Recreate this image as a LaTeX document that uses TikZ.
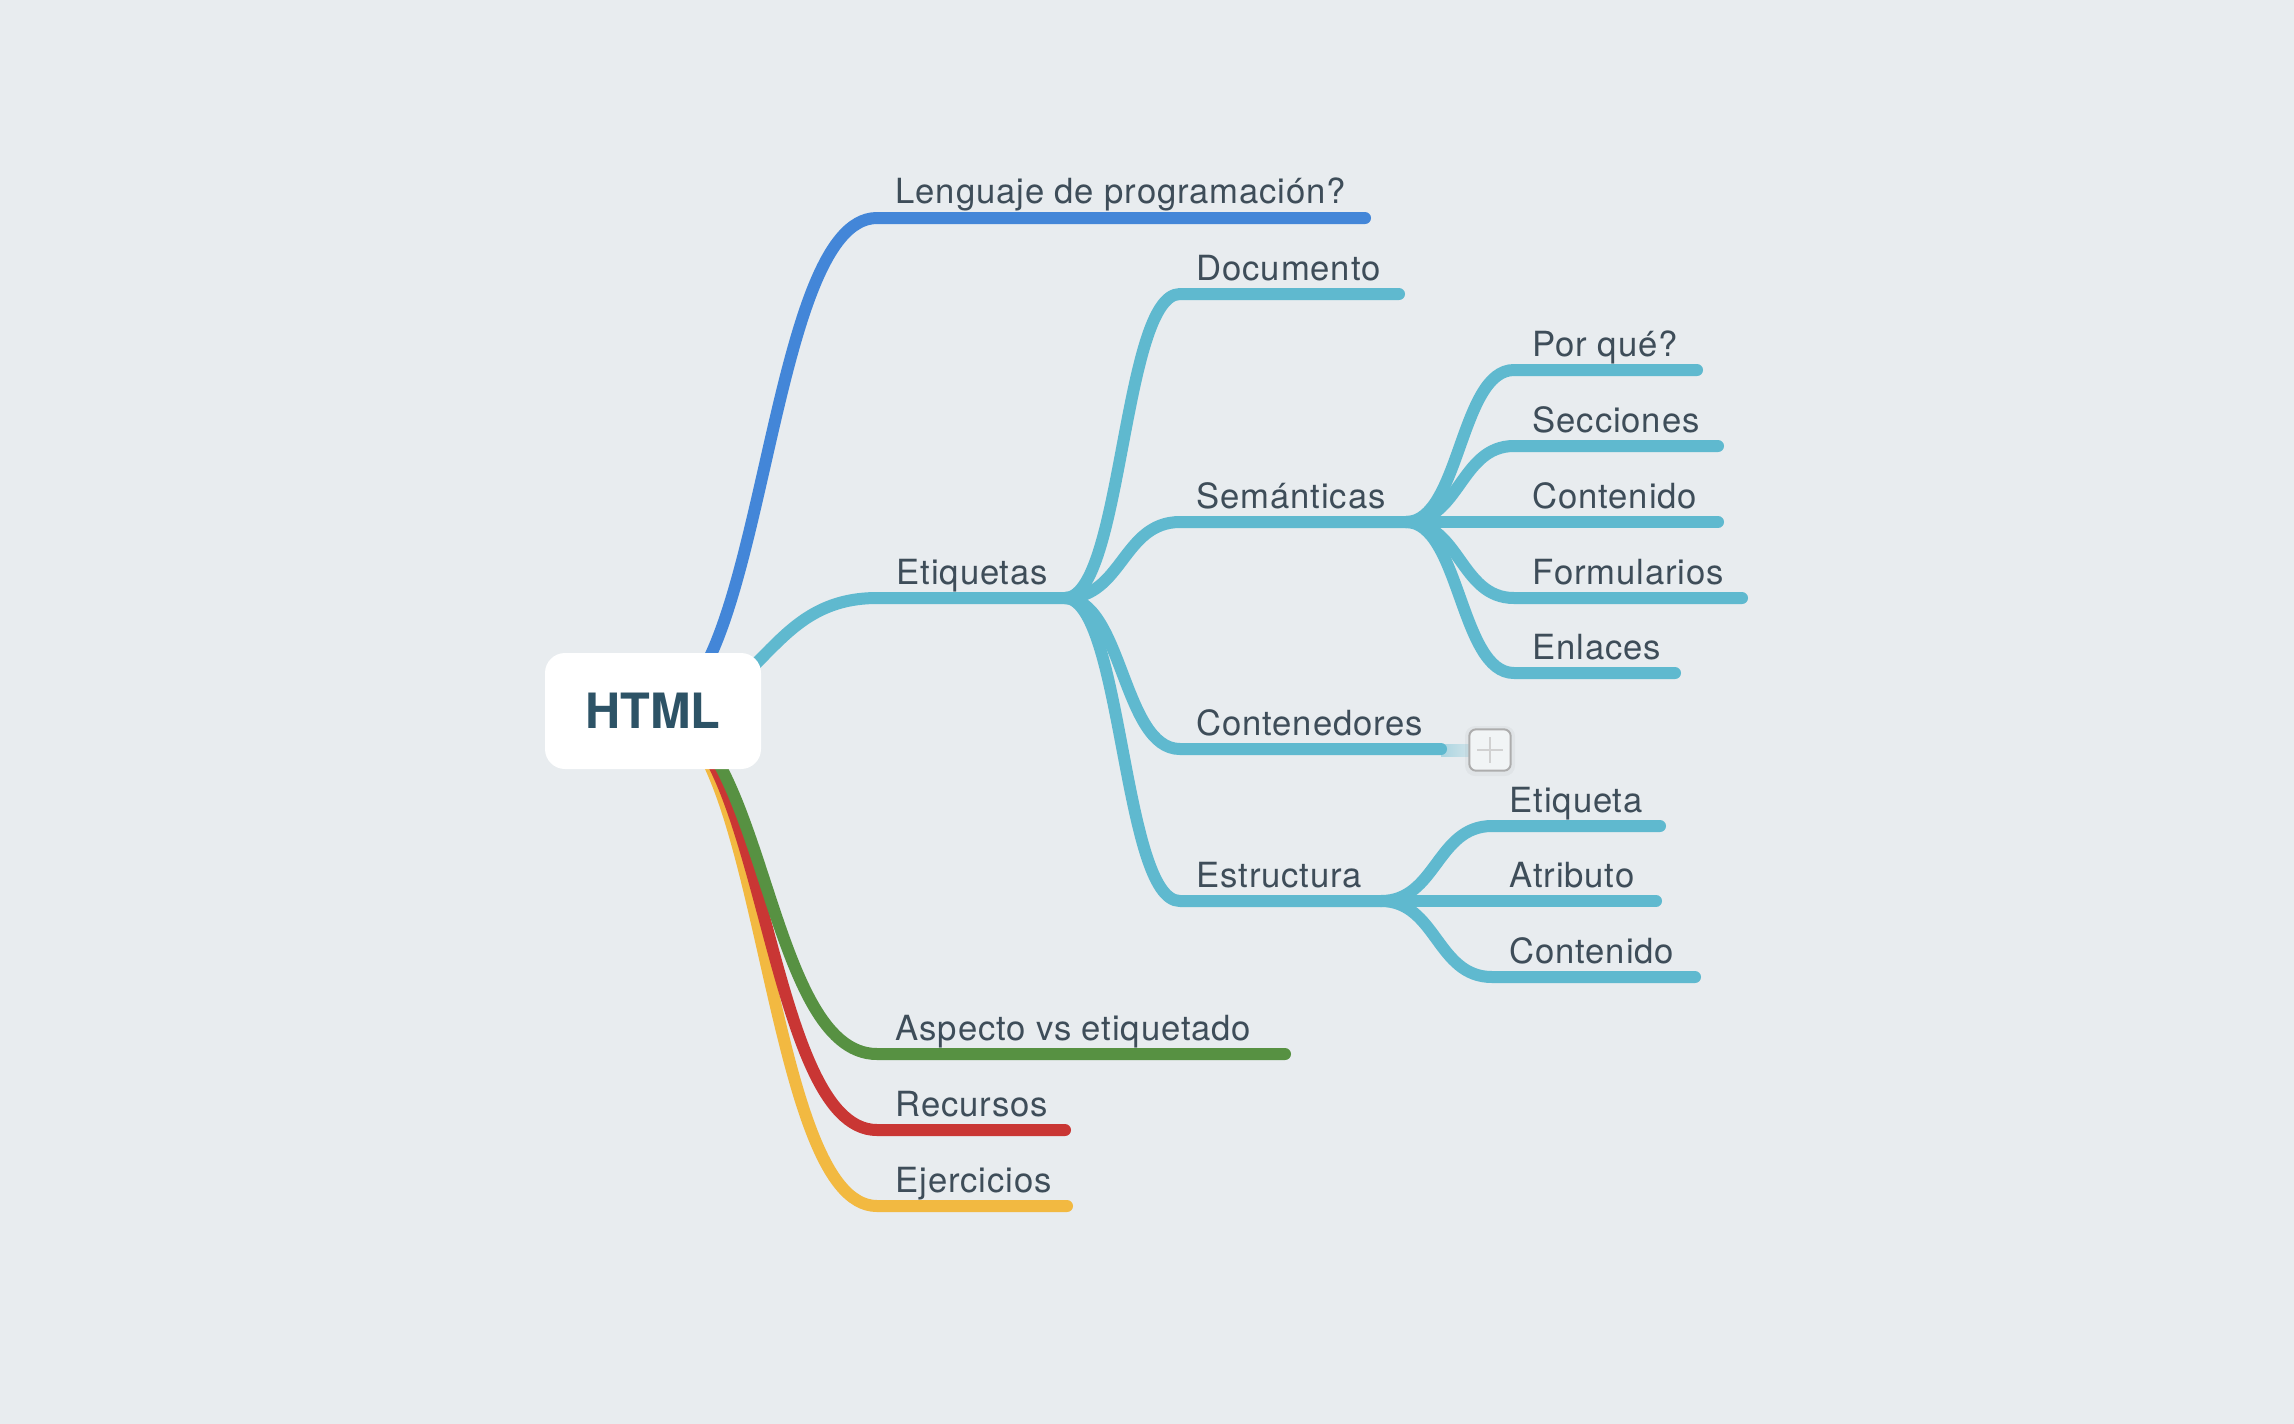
\documentclass[tikz,border=0pt]{standalone}
\usepackage{fontspec}
\setmainfont{TeX Gyre Heros}
\newfontfamily\lblfont{TeX Gyre Heros}[LetterSpace=2.5]
\usetikzlibrary{calc}
\definecolor{bg}{HTML}{E8ECEF}
\definecolor{cblue}{HTML}{4386D8}
\definecolor{clb}{HTML}{5FB9CF}
\definecolor{cgreen}{HTML}{579142}
\definecolor{cred}{HTML}{C93634}
\definecolor{cyel}{HTML}{F2B941}
\definecolor{ctext}{HTML}{3E4D59}
\definecolor{croot}{HTML}{2D5366}
\tikzset{
  br/.style={draw=#1, line width=3.6pt, line cap=round, line join=round},
  curveto/.style={to path={let \p1=(\tikztostart), \p2=(\tikztotarget) in
     .. controls ({0.5*\x1+0.5*\x2},\y1) and ({0.5*\x1+0.5*\x2},\y2) .. (\tikztotarget) \tikztonodes}},
  lbl/.style={anchor=base west, inner sep=0pt, text=ctext, font=\lblfont\fontsize{10.4}{12}\selectfont},
  rootbox/.style={fill=white, rounded corners=6pt, minimum width=64.8pt, minimum height=34.8pt,
     inner sep=0pt, text=croot, font=\fontsize{14.6}{16}\selectfont\bfseries},
  plusbox/.style={fill=bg!60!white, draw=black!32, line width=0.6pt, rounded corners=2pt,
     minimum size=12.4pt, inner sep=0pt}
}
\begin{document}
\begin{tikzpicture}[x=0.3pt,y=-0.3pt]
\useasboundingbox (0,0) rectangle (2294,1424);
\fill[bg] (0,0) rectangle (2294,1424);

% ---- coordinates
\coordinate (root) at (653,711);
% main branches
\coordinate (lengS) at (877,218);  \coordinate (lengE) at (1365,218);
\coordinate (etiqS) at (877,598);  \coordinate (etiqJ) at (1065,598);
\coordinate (aspS) at (877,1054);  \coordinate (aspE) at (1285,1054);
\coordinate (recS) at (877,1130);  \coordinate (recE) at (1065,1130);
\coordinate (ejeS) at (877,1206);  \coordinate (ejeE) at (1067,1206);
% Etiquetas children
\coordinate (docS) at (1180,294);  \coordinate (docE) at (1399,294);
\coordinate (semS) at (1180,522);  \coordinate (semJ) at (1406,522);
\coordinate (conS) at (1180,749);  \coordinate (conE) at (1441,749);
\coordinate (estS) at (1180,901);  \coordinate (estJ) at (1381,901);
% Semanticas children
\coordinate (porS) at (1514,370);  \coordinate (porE) at (1697,370);
\coordinate (secS) at (1514,446);  \coordinate (secE) at (1718,446);
\coordinate (cntS) at (1514,522);  \coordinate (cntE) at (1718,522);
\coordinate (forS) at (1514,598);  \coordinate (forE) at (1742,598);
\coordinate (enlS) at (1514,673);  \coordinate (enlE) at (1675,673);
% Estructura children
\coordinate (etaS) at (1492,826);  \coordinate (etaE) at (1660,826);
\coordinate (atrS) at (1492,901);  \coordinate (atrE) at (1656,901);
\coordinate (ct2S) at (1492,977);  \coordinate (ct2E) at (1695,977);

% ---- branches
\draw[br=cyel]   (root) to[curveto] (ejeS) -- (ejeE);
\draw[br=cred]   (root) to[curveto] (recS) -- (recE);
\draw[br=cgreen] (root) to[curveto] (aspS) -- (aspE);
\draw[br=cblue]  (root) to[curveto] (lengS) -- (lengE);
\draw[br=clb]    (root) to[curveto] (etiqS) -- (etiqJ);

\draw[br=clb] (etiqJ) to[curveto] (docS) -- (docE);
\draw[br=clb] (etiqJ) to[curveto] (semS) -- (semJ);
\draw[br=clb] (etiqJ) to[curveto] (estS) -- (estJ);

% faded connector to collapsed marker
\shade[left color=clb!45!bg, right color=clb!18!bg] (1441,744) rectangle (1470,756);
\draw[br=clb] (etiqJ) to[curveto] (conS) -- (conE);

\draw[br=clb] (semJ) to[curveto] (porS) -- (porE);
\draw[br=clb] (semJ) to[curveto] (secS) -- (secE);
\draw[br=clb] (semJ) to[curveto] (cntS) -- (cntE);
\draw[br=clb] (semJ) to[curveto] (forS) -- (forE);
\draw[br=clb] (semJ) to[curveto] (enlS) -- (enlE);

\draw[br=clb] (estJ) to[curveto] (etaS) -- (etaE);
\draw[br=clb] (estJ) to[curveto] (atrS) -- (atrE);
\draw[br=clb] (estJ) to[curveto] (ct2S) -- (ct2E);

% ---- root
\node[rootbox] (html) at (root) {HTML};

% ---- collapsed marker
\fill[black, opacity=0.03, rounded corners=3pt] (1465,726) rectangle (1515,776);
\node[plusbox] (plus) at (1490,750) {};
\draw[black!18, line width=0.8pt] ($(plus.center)+(-13,0)$) -- ($(plus.center)+(13,0)$);
\draw[black!18, line width=0.8pt] ($(plus.center)+(0,-13)$) -- ($(plus.center)+(0,13)$);

% ---- labels
\node[lbl] (tLeng) at (895,203)  {Lenguaje de programación?};
\node[lbl] (tEtiq) at (896,584)  {Etiquetas};
\node[lbl] (tAsp)  at (895,1040) {Aspecto vs etiquetado};
\node[lbl] (tRec)  at (895,1116) {Recursos};
\node[lbl] (tEje)  at (895,1192) {Ejercicios};

\node[lbl] (tDoc) at (1196,280) {Documento};
\node[lbl] (tSem) at (1196,508) {Semánticas};
\node[lbl] (tCon) at (1196,735) {Contenedores};
\node[lbl] (tEst) at (1196,887) {Estructura};

\node[lbl] (tPor) at (1532,356) {Por qué?};
\node[lbl] (tSec) at (1532,432) {Secciones};
\node[lbl] (tCnt) at (1532,508) {Contenido};
\node[lbl] (tFor) at (1532,584) {Formularios};
\node[lbl] (tEnl) at (1532,659) {Enlaces};

\node[lbl] (tEta) at (1509,812) {Etiqueta};
\node[lbl] (tAtr) at (1509,887) {Atributo};
\node[lbl] (tCt2) at (1509,963) {Contenido};
\end{tikzpicture}
\end{document}
